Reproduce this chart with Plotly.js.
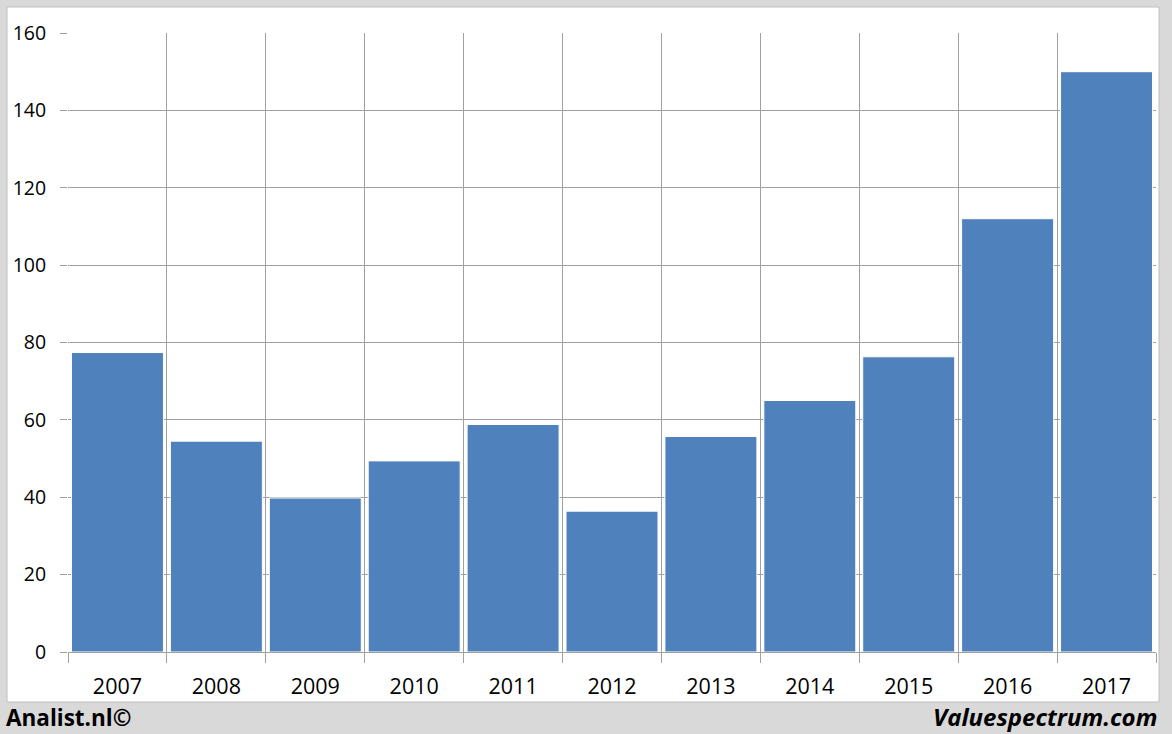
<!DOCTYPE html>
<html>
<head>
<meta charset="utf-8">
<script src="https://cdn.plot.ly/plotly-3.0.1.min.js"></script>
<style>html,body{margin:0;padding:0;background:#d9d9d9;}#chart{width:1172px;height:734px;}</style>
</head>
<body>
<div id="chart"></div>
<script>
const years = ['2007','2008','2009','2010','2011','2012','2013','2014','2015','2016','2017'];
const values = [77.4, 54.5, 39.8, 49.4, 58.8, 36.4, 55.7, 65.0, 76.3, 112.0, 150.0];
const yTicks = [0, 20, 40, 60, 80, 100, 120, 140, 160];

const W = 1172, H = 734, L = 68, R = 16, T = 33, B = 82;
const pw = W - L - R, ph = H - T - B;
const px = x => (x - L) / pw;
const py = y => (H - B - y) / ph;

const trace = {
  type: 'bar',
  x: years,
  y: values,
  marker: { color: '#4f81bd', line: { color: '#ffffff', width: 1 } },
  hoverinfo: 'x+y'
};

const layout = {
  width: W, height: H,
  margin: { l: L, r: R, t: T, b: B, pad: 0 },
  paper_bgcolor: '#d9d9d9',
  plot_bgcolor: '#ffffff',
  showlegend: false,
  bargap: 0.07,
  font: { family: 'Open Sans, sans-serif', color: '#000000' },
  xaxis: {
    type: 'category',
    tickson: 'boundaries',
    showgrid: true,
    gridcolor: '#a0a0a0',
    gridwidth: 1,
    ticks: 'outside',
    ticklen: 10,
    tickcolor: '#a0a0a0',
    tickfont: { size: 21.5, color: '#000' },
    ticklabelstandoff: 19,
    showline: false,
    zeroline: false
  },
  yaxis: {
    range: [0, 160],
    tickvals: yTicks,
    ticktext: yTicks.map(String),
    showgrid: true,
    gridcolor: '#a0a0a0',
    gridwidth: 1,
    ticks: 'outside',
    ticklen: 7,
    tickcolor: '#a0a0a0',
    tickfont: { size: 19.5, color: '#000' },
    ticklabelstandoff: 10,
    zeroline: true,
    zerolinecolor: '#a0a0a0',
    zerolinewidth: 1,
    showline: false
  },
  shapes: [
    {
      type: 'rect', xref: 'paper', yref: 'paper', layer: 'below',
      x0: px(7), x1: px(1159), y0: py(702), y1: py(7),
      fillcolor: '#ffffff', line: { color: '#bfbfbf', width: 1 }
    }
  ],
  annotations: [
    {
      text: '<b>Analist.nl©</b>', xref: 'paper', yref: 'paper',
      x: px(4), y: py(717), xanchor: 'left', yanchor: 'middle',
      showarrow: false, font: { size: 22.5, color: '#000', family: 'Open Sans, sans-serif' }
    },
    {
      text: '<b><i>Valuespectrum.com</i></b>', xref: 'paper', yref: 'paper',
      x: px(1159), y: py(716), xanchor: 'right', yanchor: 'middle',
      showarrow: false, font: { size: 24, color: '#000', family: 'Open Sans, sans-serif' }
    }
  ]
};

Plotly.newPlot('chart', [trace], layout, { displayModeBar: false, staticPlot: true });
</script>
</body>
</html>
